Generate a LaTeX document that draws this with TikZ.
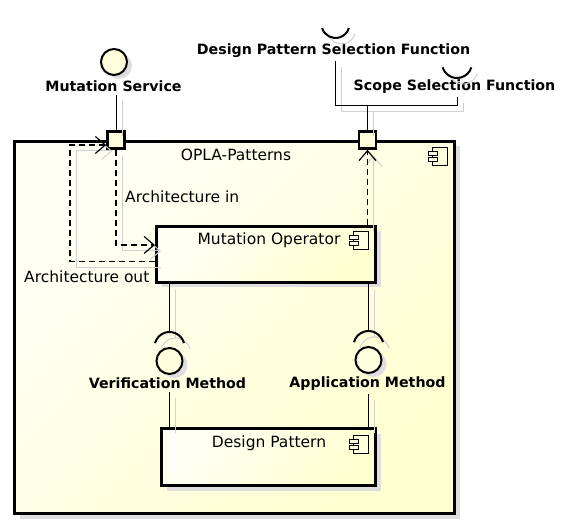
\documentclass[tikz,border=0pt]{standalone}
\usepackage{fontspec}
\setmainfont{DejaVu Sans}
\usepackage{tikz}
\usetikzlibrary{arrows.meta,shapes,positioning,shadows,calc}
\definecolor{umlpale}{RGB}{255,255,246}
\definecolor{umlyellow}{RGB}{255,255,208}
\definecolor{umlport}{RGB}{255,255,222}
\definecolor{umlshadow}{RGB}{222,222,222}
\definecolor{wireshadow}{RGB}{208,208,208}
\newcommand{\umlfont}{\fontsize{15.5}{18}\selectfont}
\newcommand{\umlbold}{\fontsize{14.2}{17}\selectfont\bfseries}
\tikzstyle{compbox} = [draw, line width=3pt, left color=umlpale, right color=umlyellow, shading angle=45, drop shadow={shadow xshift=5pt, shadow yshift=-5pt, fill=umlshadow, opacity=1}]
\tikzstyle{port} = [draw, line width=2.5pt, fill=umlport, minimum size=17pt, inner sep=0pt]
\tikzstyle{ball} = [draw, circle, line width=2pt, fill=umlport, minimum size=26pt, inner sep=0pt, drop shadow={shadow xshift=5pt, shadow yshift=-4pt, fill=umlshadow, opacity=1}]
\tikzstyle{ifname} = [font=\umlbold, anchor=base, inner sep=3pt]
\tikzstyle{plain} = [anchor=base, inner sep=3pt]
\tikzstyle{wire} = [line width=1pt]
\tikzstyle{socket} = [line width=2pt]
\tikzstyle{dep} = [line width=1.2pt, dash pattern=on 6pt off 4pt, -{Straight Barb[length=10pt, width=17pt]}]
\tikzstyle{ghostwire} = [line width=1pt, color=wireshadow]
\tikzstyle{ghostdep} = [ghostwire, -{Straight Barb[length=10pt, width=17pt]}]
\tikzset{compicon/.pic={
  \draw[line width=1pt, fill=umlport] (-7.5pt,-9pt) rectangle (7.5pt,9pt);
  \draw[line width=1pt, fill=umlport] (-11.5pt,1pt) rectangle (-2.5pt,5pt);
  \draw[line width=1pt, fill=umlport] (-11.5pt,-5pt) rectangle (-2.5pt,-1pt);
}}
% all connectors, once as shadow and once for real
\newcommand{\drawwires}[3]{%
  \draw[#1] (msname.south -| lport) -- (lport.north);
  \draw[#1] (dpsfname.south -| dpsfsock) -- (dpsfsock |- fjoin) -- (ssfsock |- fjoin) -- (ssfname.south -| ssfsock);
  \draw[#1] (rport.north) -- (fjoin);
  \draw[#1] (mutop.south -| vsock) -- ($(vsock)+(90:15pt)$);
  \draw[#1] (vmname.south -| vsock) -- (dpat.north -| vsock);
  \draw[#1] (mutop.south -| asock) -- ($(asock)+(90:15pt)$);
  \draw[#1] (amname.south -| asock) -- (dpat.north -| asock);
  % sockets
  \draw[#3] ($(vsock)+(15:15pt)$) arc[start angle=15, end angle=165, radius=15pt];
  \draw[#3] ($(asock)+(15:15pt)$) arc[start angle=15, end angle=165, radius=15pt];
  \draw[#3] ($(dpsfsock)+(197:14pt)$) arc[start angle=197, end angle=343, radius=14pt];
  \draw[#3] ($(ssfsock)+(197:15pt)$) arc[start angle=197, end angle=343, radius=15pt];
  % architecture in / out and functions
  \draw[#2] (lport.south) |- ([yshift=9.5pt]mutop.west);
  \draw[#2] ([yshift=-7pt]mutop.west) -- ++(-85pt,0pt) |- ([yshift=-5pt]lport.west);
  \draw[#2] (mutop.north -| rport) -- (rport.south);
}

\begin{document}
\begin{tikzpicture}[x=1pt, y=-1pt, font=\umlfont]
\useasboundingbox (0,0) rectangle (573,526);

% OPLA-Patterns component and its parts
\node[compbox, minimum width=440pt, minimum height=372pt] (opla) at (234.5,327.5) {};
\node[plain] (oplaname) at (236,161) {OPLA-Patterns};
\node[compbox, minimum width=219pt, minimum height=56pt] (mutop) at (266,254.5) {};
\node[plain] (mutopname) at (269,245) {Mutation Operator};
\node[compbox, minimum width=214pt, minimum height=57pt] (dpat) at (268.5,457) {};
\node[plain] (dpatname) at (269,447) {Design Pattern};
\pic at ($(opla.north east)+(-16pt,-16.5pt)$) {compicon};
\pic at ($(mutop.north east)+(-16.5pt,-16pt)$) {compicon};
\pic at ($(dpat.north east)+(-16.5pt,-17pt)$) {compicon};

% ports
\node[port] (lport) at (116,140) {};
\node[port] (rport) at (367.5,140) {};

% provided / required interfaces
\node[ball] (msball) at (114,62) {};
\node[ifname] (msname) at (113.5,92) {Mutation Service};
\coordinate (dpsfsock) at (335.5,24);
\node[ifname] (dpsfname) at (333.5,55) {Design Pattern Selection Function};
\coordinate (ssfsock) at (457,63);
\node[ifname] (ssfname) at (454.5,91) {Scope Selection Function};
\coordinate (fjoin) at (367.5,106);
\node[ball] (vball) at (169.5,361) {};
\coordinate (vsock) at (169.5,347);
\node[ifname] (vmname) at (167.5,389) {Verification Method};
\node[ball] (aball) at (368.5,360) {};
\coordinate (asock) at (368.5,346);
\node[ifname] (amname) at (367.5,388) {Application Method};

% dependency labels
\node[plain, anchor=base west] (archin) at (122,203) {Architecture in};
\node[plain, anchor=base west] (archout) at (21,283) {Architecture out};

% connectors
\begin{scope}[transform canvas={xshift=6pt, yshift=-6pt}]
\drawwires{ghostwire}{ghostdep}{ghostwire}
\end{scope}
\drawwires{wire}{dep}{socket}
\end{tikzpicture}
\end{document}
